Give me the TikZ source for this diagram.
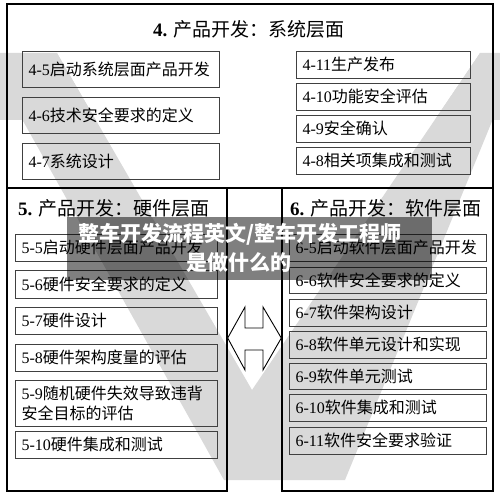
\documentclass[tikz,border=0pt]{standalone}
\usepackage{fontspec}
\setmainfont{Liberation Serif}
\newfontfamily\cjk{Noto Sans CJK SC}
\newcommand\blab[2]{#1{\cjk #2}}
\begin{document}
\begin{tikzpicture}[x=1pt,y=-1pt,
  wm/.style={fill=black!15, draw=none},
  sect/.style={draw=black, line width=1.4pt, inner sep=0pt},
  box/.style={draw=black!75, line width=0.9pt, inner xsep=6.5pt, inner ysep=0pt, align=left,
              font=\fontsize{16}{20}\selectfont},
  tlbox/.style={box, minimum width=197pt, text width=184pt, minimum height=36pt},
  trbox/.style={box, minimum width=174pt, text width=161pt, minimum height=27pt},
  llbox/.style={box, minimum width=202pt, text width=189pt, minimum height=27pt},
  lrbox/.style={box, minimum width=197pt, text width=184pt, minimum height=27pt},
  ttl/.style={font=\fontsize{19}{22}\selectfont, inner sep=0pt},
  blockarrow/.style={draw=black, line width=0.9pt, fill=white, line join=miter},
  ovl/.style={text=white, font=\fontsize{21}{24}\selectfont\cjk\bfseries, inner sep=0pt}
]
\useasboundingbox (0,0) rectangle (500,497);
% watermark
\fill[wm] (0,53) rectangle (500,120);
\fill[white] (57,53) -- (252,390) -- (480,53) -- cycle;
\fill[wm] (-15,53) -- (57,53) -- (252,390) -- (480,53) -- (520,53) -- (345,480) -- (224,480) -- cycle;

% sections
\node[sect, minimum width=486pt, minimum height=184pt] (s4) at (250,96) {};
\node[sect, minimum width=220pt, minimum height=303pt] (s5) at (117,339.5) {};
\node[sect, minimum width=211pt, minimum height=303pt] (s6) at (387.5,339.5) {};

% titles
\node[ttl] (t4) at (249,29) {\textbf{4.} {\cjk 产品开发：系统层面}};
\node[ttl, anchor=west] (t5) at (18,208) {\textbf{5.} {\cjk 产品开发：硬件层面}};
\node[ttl, anchor=west] (t6) at (290,208) {\textbf{6.} {\cjk 产品开发：软件层面}};

% system level
\node[tlbox] (b45) at (120.5,69) {\blab{4-5}{启动系统层面产品开发}};
\node[tlbox] (b46) at (120.5,115) {\blab{4-6}{技术安全要求的定义}};
\node[tlbox] (b47) at (120.5,161) {\blab{4-7}{系统设计}};
\node[trbox] (b411) at (383,64.5) {\blab{4-11}{生产发布}};
\node[trbox] (b410) at (383,96.5) {\blab{4-10}{功能安全评估}};
\node[trbox] (b49) at (383,128.5) {\blab{4-9}{安全确认}};
\node[trbox] (b48) at (383,160.5) {\blab{4-8}{相关项集成和测试}};

% hardware level
\node[llbox] (b55) at (116,247.5) {\blab{5-5}{启动硬件层面产品开发}};
\node[llbox, minimum height=28pt] (b56) at (116,284) {\blab{5-6}{硬件安全要求的定义}};
\node[llbox] (b57) at (116,320.5) {\blab{5-7}{硬件设计}};
\node[llbox] (b58) at (116,357.5) {\blab{5-8}{硬件架构度量的评估}};
\node[llbox, minimum height=46pt] (b59) at (116,403) {\blab{5-9}{随机硬件失效导致违背}\\{\cjk 安全目标的评估}};
\node[llbox] (b510) at (116,444.5) {\blab{5-10}{硬件集成和测试}};

% software level
\node[lrbox] (b65) at (387.5,247.5) {\blab{6-5}{启动软件层面产品开发}};
\node[lrbox, minimum height=26pt] (b66) at (387.5,280) {\blab{6-6}{软件安全要求的定义}};
\node[lrbox] (b67) at (387.5,312.5) {\blab{6-7}{软件架构设计}};
\node[lrbox] (b68) at (387.5,344.5) {\blab{6-8}{软件单元设计和实现}};
\node[lrbox, minimum height=26pt] (b69) at (387.5,376) {\blab{6-9}{软件单元测试}};
\node[lrbox] (b610) at (387.5,407.5) {\blab{6-10}{软件集成和测试}};
\node[lrbox] (b611) at (387.5,440.5) {\blab{6-11}{软件安全要求验证}};

% double block arrow between hardware and software sections
\draw[blockarrow] (s5.east |- 0,338) -- (245,307) -- (245,328) -- (263,328) -- (263,307)
  -- (s6.west |- 0,338) -- (263,370) -- (263,350) -- (245,350) -- (245,370) -- cycle;

% overlay banner
\node[fill=black, fill opacity=0.5, draw=none, minimum width=365pt, minimum height=63pt, inner sep=0pt] (ban) at (249.5,248.5) {};
\node[ovl] (o1) at (240,234) {整车开发流程英文/整车开发工程师};
\node[ovl] (o2) at (239,263) {是做什么的};
\end{tikzpicture}
\end{document}
